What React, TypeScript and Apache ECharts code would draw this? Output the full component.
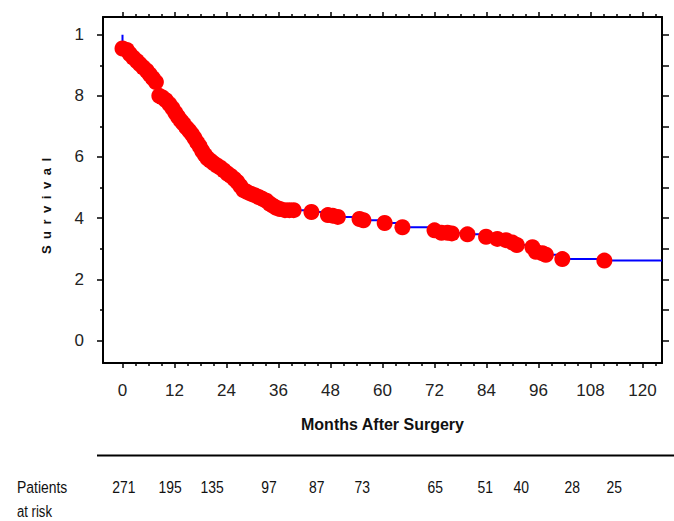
import React, { useEffect, useRef } from "react";
import * as echarts from "echarts";

// Kaplan-Meier estimates (months, survival)
const eventMonths = [
  0, 1.0, 1.7, 2.5, 3.3, 4.0, 4.8, 5.6, 6.3, 7.0, 7.7, 8.5, 9.2, 10.0, 10.8, 11.5,
  12.2, 12.8, 13.4, 14.0, 14.7, 15.4, 16.0, 16.6, 17.2, 17.8, 18.4, 19.0, 19.6,
  20.3, 21.0, 21.8, 22.6, 23.4, 24.2, 25.0, 25.8, 26.5, 27.2, 27.9, 28.7, 29.6,
  30.5, 31.4, 32.3, 33.2, 34.0, 34.8, 35.5, 36.3, 37.5, 38.5, 39.5, 43.6, 47.4,
  48.5, 49.7, 54.7, 55.6, 60.5, 64.6, 72.0, 73.6, 75.0, 76.0, 79.6, 83.9, 86.5,
  88.5, 90.0, 91.0, 94.6, 95.4, 96.9, 97.7, 101.5, 111.2,
];
const eventSurvival = [
  0.955, 0.95, 0.937, 0.925, 0.914, 0.904, 0.893, 0.882, 0.87, 0.858, 0.845, 0.8,
  0.795, 0.786, 0.773, 0.76, 0.745, 0.732, 0.72, 0.71, 0.697, 0.686, 0.675, 0.662,
  0.648, 0.635, 0.62, 0.607, 0.596, 0.588, 0.58, 0.572, 0.565, 0.556, 0.546, 0.538,
  0.528, 0.518, 0.505, 0.492, 0.486, 0.48, 0.475, 0.469, 0.463, 0.457, 0.447, 0.44,
  0.434, 0.43, 0.426, 0.426, 0.426, 0.42, 0.41, 0.408, 0.404, 0.397, 0.393, 0.384,
  0.37, 0.36, 0.352, 0.352, 0.35, 0.347, 0.339, 0.332, 0.328, 0.32, 0.312, 0.305,
  0.29, 0.285, 0.28, 0.266, 0.261,
];
const startSurvival = 1;
const xMin = -4.5;
const xMax = 124.5;
const yMin = -0.074;
const yMax = 1.058;

const xMajorTicks = [0, 12, 24, 36, 48, 60, 72, 84, 96, 108, 120];
const xMinorTicks = [3, 6, 9, 15, 18, 21, 27, 30, 33, 39, 42, 45, 51, 54, 57, 63, 66, 69, 75, 78, 81, 87, 90, 93, 99, 102, 105, 111, 114, 117, 123];
const yMajorTicks = [0, 0.2, 0.4, 0.6, 0.8, 1];
const yMinorTicks = [0.1, 0.3, 0.5, 0.7, 0.9];
const yRightTicks = [0, 0.1, 0.2, 0.3, 0.4, 0.5, 0.6, 0.7, 0.8, 0.9, 1];

const riskMonths = [0.3, 11, 20.7, 33.8, 44.8, 55.3, 72.2, 83.7, 92, 103.8, 113.5];
const riskCounts = [271, 195, 135, 97, 87, 73, 65, 51, 40, 28, 25];

const FONT = "'Liberation Sans', Arial, Helvetica, sans-serif";

export default function App() {
  const ref = useRef<HTMLDivElement>(null);

  useEffect(() => {
    if (!ref.current) return;
    const chart = echarts.init(ref.current, null, { renderer: "svg" });

    const points = eventMonths.map((m, i) => [m, eventSurvival[i]]);
    const linePoints = [[0, startSurvival], ...points, [xMax, eventSurvival[eventSurvival.length - 1]]];

    const axisLine = { show: true, onZero: false, lineStyle: { color: "#000", width: 2 } };
    const noLine = { show: false, onZero: false };
    const tickStyle = { color: "#000", width: 1.5 };
    const baseX = { type: "value", min: xMin, max: xMax, splitLine: { show: false } };
    const baseY = { type: "value", min: yMin, max: yMax, splitLine: { show: false } };

    chart.setOption({
      animation: false,
      grid: { left: 103, top: 17, right: 12, bottom: 158 },
      xAxis: [
        {
          ...baseX,
          position: "bottom",
          axisLine,
          axisTick: { show: true, customValues: xMajorTicks, length: 5, lineStyle: tickStyle },
          axisLabel: {
            customValues: xMajorTicks,
            fontSize: 17,
            color: "#222",
            margin: 19,
            fontFamily: FONT,
          },
          name: "Months After Surgery",
          nameLocation: "middle",
          nameGap: 53,
          nameTextStyle: { fontWeight: "bold", fontSize: 16, color: "#111", fontFamily: FONT },
        },
        {
          ...baseX,
          position: "bottom",
          axisLine: noLine,
          axisTick: { show: true, customValues: xMinorTicks, length: 3, lineStyle: tickStyle },
          axisLabel: { show: false },
        },
        {
          ...baseX,
          position: "top",
          axisLine,
          axisTick: { show: true, customValues: xMajorTicks, length: 5, lineStyle: tickStyle },
          axisLabel: { show: false },
        },
        {
          ...baseX,
          position: "top",
          axisLine: noLine,
          axisTick: { show: true, customValues: xMinorTicks, length: 3, lineStyle: tickStyle },
          axisLabel: { show: false },
        },
      ],
      yAxis: [
        {
          ...baseY,
          position: "left",
          axisLine,
          axisTick: { show: true, customValues: yMajorTicks, length: 6, lineStyle: tickStyle },
          axisLabel: {
            customValues: yMajorTicks,
            fontSize: 17,
            color: "#222",
            margin: 19,
            fontFamily: FONT,
            formatter: (v: number) => (Math.abs(v - 1) < 1e-6 ? "1" : String(Math.round(v * 10))),
          },
        },
        {
          ...baseY,
          position: "left",
          axisLine: noLine,
          axisTick: { show: true, customValues: yMinorTicks, length: 3, lineStyle: tickStyle },
          axisLabel: { show: false },
        },
        {
          ...baseY,
          position: "right",
          axisLine,
          axisTick: { show: true, customValues: yRightTicks, length: 7, lineStyle: tickStyle },
          axisLabel: { show: false },
        },
      ],
      series: [
        {
          type: "line",
          xAxisIndex: 0,
          yAxisIndex: 0,
          step: "end",
          data: linePoints,
          showSymbol: false,
          symbol: "none",
          lineStyle: { color: "#0000ff", width: 2 },
          z: 2,
        },
        {
          type: "scatter",
          xAxisIndex: 0,
          yAxisIndex: 0,
          data: points,
          symbol: "circle",
          symbolSize: 16,
          itemStyle: { color: "#ff0000", opacity: 1 },
          z: 3,
        },
      ],
    });

    const riskTexts = riskMonths.map((m, i) => ({
      type: "text",
      x: chart.convertToPixel({ xAxisIndex: 0 }, m) as number,
      y: 487,
      scaleX: 0.82,
      style: {
        text: String(riskCounts[i]),
        fontSize: 17,
        fontFamily: FONT,
        fill: "#111",
        textAlign: "center",
        textVerticalAlign: "middle",
      },
    }));

    chart.setOption({
      graphic: [
        {
          type: "text",
          x: 46,
          y: 206,
          rotation: Math.PI / 2,
          style: {
            text: "S\u2002u\u2002r\u2002v\u2002i\u2002v\u2002a\u2002l",
            fontSize: 13,
            fontWeight: "bold",
            fontFamily: FONT,
            fill: "#111",
            textAlign: "center",
            textVerticalAlign: "middle",
          },
        },
        {
          type: "line",
          shape: { x1: 97, y1: 455.5, x2: 674, y2: 455.5 },
          style: { stroke: "#000", lineWidth: 2 },
        },
        {
          type: "text",
          x: 17,
          y: 487,
          scaleX: 0.82,
          style: {
            text: "Patients",
            fontSize: 17,
            fontFamily: FONT,
            fill: "#111",
            textAlign: "left",
            textVerticalAlign: "middle",
          },
        },
        {
          type: "text",
          x: 17,
          y: 512,
          scaleX: 0.82,
          style: {
            text: "at risk",
            fontSize: 16,
            fontFamily: FONT,
            fill: "#111",
            textAlign: "left",
            textVerticalAlign: "middle",
          },
        },
        ...riskTexts,
      ],
    });

    return () => chart.dispose();
  }, []);

  return (
    <div
      ref={ref}
      style={{ position: "fixed", left: 0, top: 0, width: 674, height: 521, background: "#fff" }}
    />
  );
}
